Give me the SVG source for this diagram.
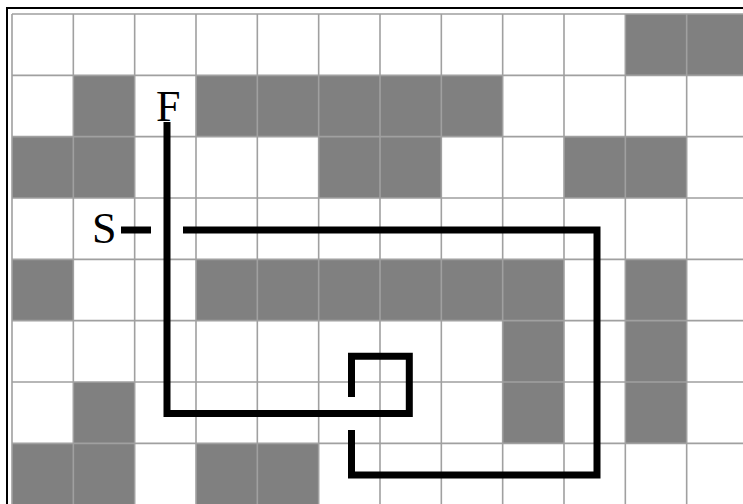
<svg xmlns="http://www.w3.org/2000/svg" width="743" height="504" viewBox="0 0 743 504">
<style>
.wall{fill:#808080}
.grid{stroke:#a0a0a0;stroke-width:1.6;fill:none}
.route{stroke:#000;stroke-width:7;fill:none;stroke-linejoin:miter;stroke-linecap:butt}
.lbl{font-family:"Liberation Serif","Times New Roman",serif;font-size:44px;fill:#000}
</style>
<rect x="0" y="0" width="743" height="504" fill="#fff"/>
<rect x="7" y="8" width="760" height="520" fill="#fff" stroke="#000" stroke-width="2"/>
<g id="walls">
<rect class="wall" x="625.3" y="14" width="61.33" height="61.33"/>
<rect class="wall" x="686.7" y="14" width="61.33" height="61.33"/>
<rect class="wall" x="73.3" y="75.3" width="61.33" height="61.33"/>
<rect class="wall" x="196" y="75.3" width="306.7" height="61.33"/>
<rect class="wall" x="12" y="136.7" width="122.7" height="61.33"/>
<rect class="wall" x="318.7" y="136.7" width="122.7" height="61.33"/>
<rect class="wall" x="564" y="136.7" width="122.7" height="61.33"/>
<rect class="wall" x="12" y="259.3" width="61.33" height="61.33"/>
<rect class="wall" x="196" y="259.3" width="368" height="61.33"/>
<rect class="wall" x="625.3" y="259.3" width="61.33" height="61.33"/>
<rect class="wall" x="502.7" y="320.7" width="61.33" height="122.7"/>
<rect class="wall" x="625.3" y="320.7" width="61.33" height="122.7"/>
<rect class="wall" x="73.3" y="382" width="61.33" height="61.33"/>
<rect class="wall" x="12" y="443.3" width="122.7" height="61.33"/>
<rect class="wall" x="196" y="443.3" width="122.7" height="61.33"/>
</g>
<g id="grid" class="grid">
<path d="M12,14V510M73.33,14V510M134.67,14V510M196,14V510M257.33,14V510M318.67,14V510M380,14V510M441.33,14V510M502.67,14V510M564,14V510M625.33,14V510M686.67,14V510"/>
<path d="M12,14H750M12,75.33H750M12,136.67H750M12,198H750M12,259.33H750M12,320.67H750M12,382H750M12,443.33H750"/>
</g>
<g id="connectors">
<path class="route" d="M121,230H151"/>
<path class="route" d="M183,230H597V475H351.5V430"/>
<path class="route" d="M351.5,397V356.3H409.3V413.5H167V122"/>
</g>
<g id="start"><text class="lbl" x="92" y="243">S</text></g>
<g id="finish"><text class="lbl" x="156" y="121">F</text></g>
</svg>
